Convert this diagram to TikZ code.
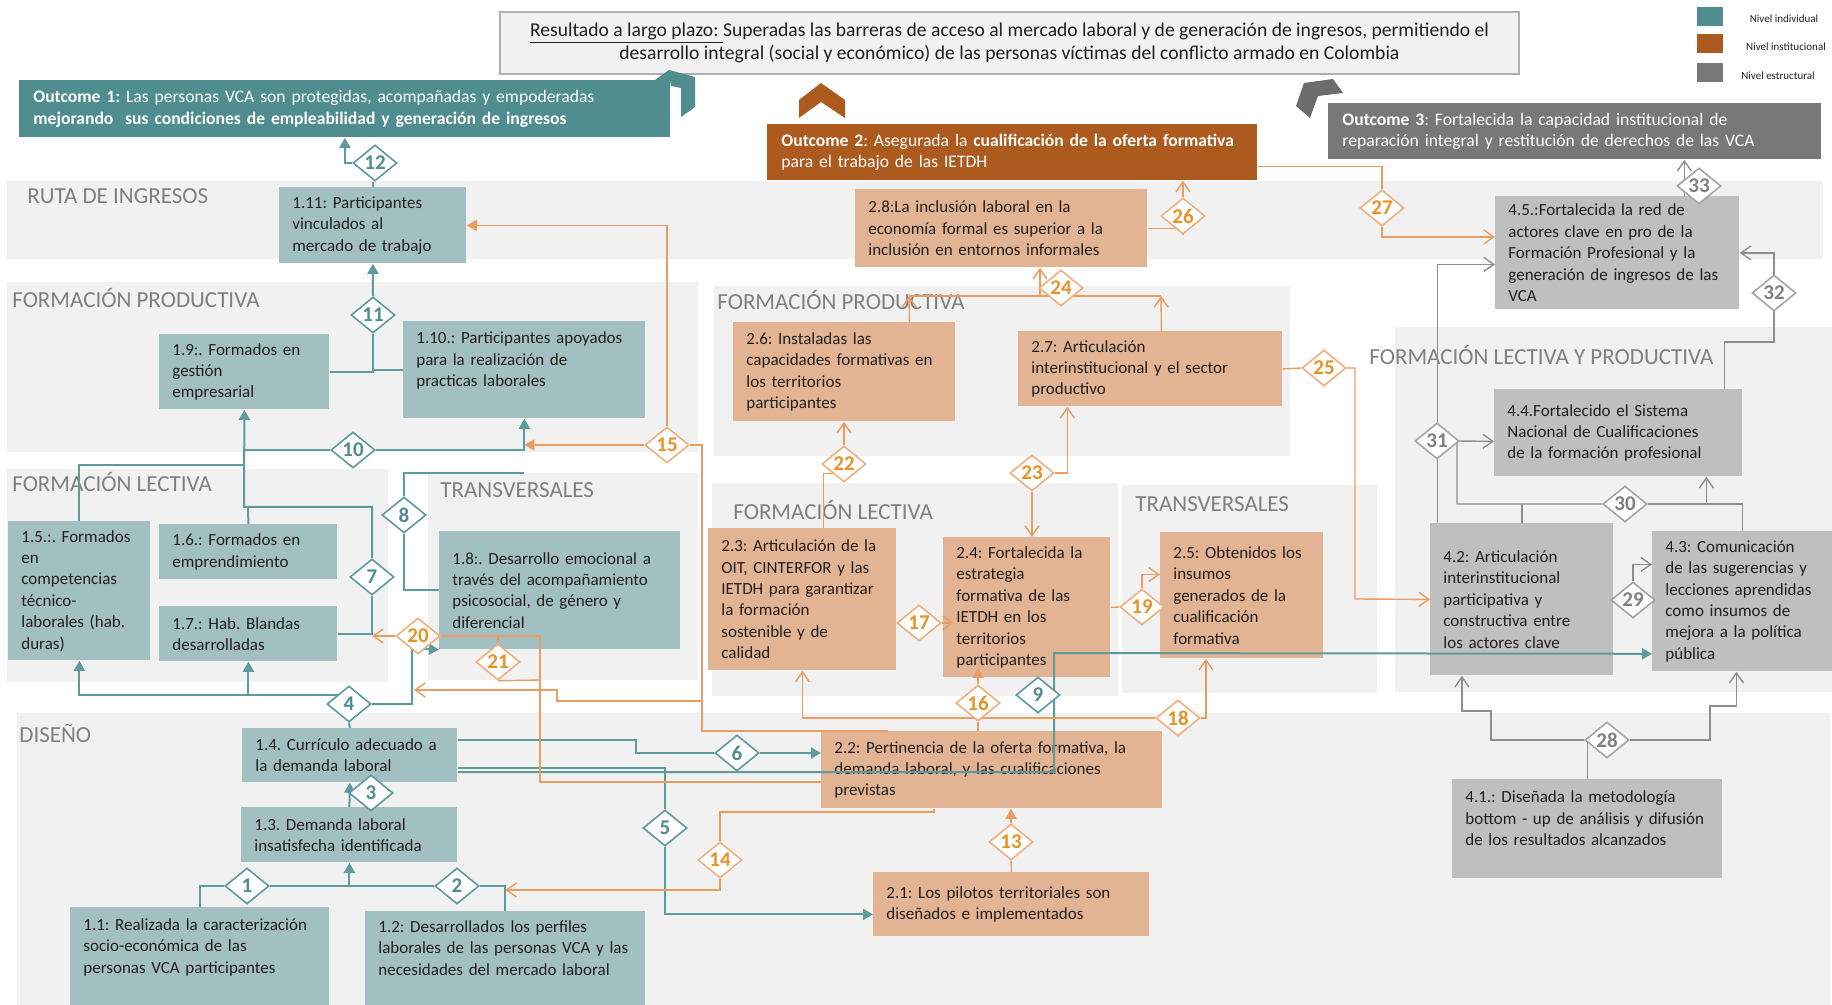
\documentclass[tikz,border=0pt]{standalone}
\usepackage{fontspec}
\setmainfont{Carlito}
\frenchspacing
\usepackage{tikz}
\usetikzlibrary{arrows.meta,shapes.geometric}
\pgfdeclarelayer{front}
\pgfsetlayers{main,front}
\definecolor{ctealD}{HTML}{508D8E}
\definecolor{ctealL}{HTML}{A2C0C1}
\definecolor{ctealLn}{HTML}{5F9B9C}
\definecolor{corD}{HTML}{AD5A1F}
\definecolor{corL}{HTML}{E2B493}
\definecolor{corLn}{HTML}{EB9C60}
\definecolor{corTx}{HTML}{E8922A}
\definecolor{cgrD}{HTML}{787878}
\definecolor{cgrL}{HTML}{BFBFBF}
\definecolor{cgrLn}{HTML}{8E8E8E}
\definecolor{cband}{HTML}{F1F1F1}
\definecolor{clabel}{HTML}{808080}
\definecolor{ctext}{HTML}{231F20}

\begin{document}
\begin{tikzpicture}[x=0.5pt,y=-0.5pt,
  font=\fontsize{8.5}{10.7}\selectfont, text=ctext,
  bandlbl/.style={anchor=base west,inner sep=0,text=clabel,font=\fontsize{11.5}{13}\selectfont},
  box/.style={anchor=north west,align=left,inner xsep=6.5pt,inner ysep=2pt},
  tbox/.style={box,fill=ctealL},
  obox/.style={box,fill=corL},
  gbox/.style={box,fill=cgrL},
  outc/.style={anchor=north west,align=left,inner xsep=7pt,text=white,font=\fontsize{8.8}{10.9}\selectfont},
  lgsq/.style={anchor=north west,inner sep=0,minimum width=13pt,minimum height=9.5pt},
  lgtx/.style={text=ctext,font=\fontsize{5.5}{6}\selectfont},
  dia/.style={diamond,aspect=1.2,minimum width=22pt,minimum height=18pt,inner sep=0,
              fill=white,line width=0.8pt,font=\bfseries\fontsize{10.5}{12}\selectfont},
  tdia/.style={dia,draw=ctealLn,text=ctealD},
  odia/.style={dia,draw=corLn!80,text=corTx},
  gdia/.style={dia,draw=cgrLn!80,text=clabel},
  tline/.style={draw=ctealLn,line width=1pt},
  tarr/.style={tline,-{Triangle[length=5pt,width=5.5pt]}},
  oline/.style={draw=corLn,line width=0.7pt},
  oarr/.style={oline,-{Straight Barb[length=5pt,width=7pt]}},
  oarrf/.style={oline,-{Triangle[length=5pt,width=5.5pt]}},
  gline/.style={draw=cgrLn,line width=0.7pt},
  garr/.style={gline,-{Straight Barb[length=5pt,width=7pt]}}]
  \useasboundingbox (0,0) rectangle (1832,1005);
  \fill[white] (0,0) rectangle (1832,1005);

  % bands
  \fill[cband] (7,181) rectangle (1823,259);
  \fill[cband] (7,282) rectangle (698,452);
  \fill[cband] (7,469) rectangle (388,682);
  \fill[cband] (428,473) rectangle (698,680);
  \fill[cband] (714,286) rectangle (1290,456);
  \fill[cband] (712,483) rectangle (1118,696);
  \fill[cband] (1122,485) rectangle (1377,693);
  \fill[cband] (1395,327) rectangle (1832,692);
  \fill[cband] (17,713) rectangle (1830,1005);
  \node[bandlbl] (lruta) at (27,204) {RUTA DE INGRESOS};
  \node[bandlbl] (lfp1) at (12,308) {FORMACIÓN PRODUCTIVA};
  \node[bandlbl] (lfl1) at (12,492) {FORMACIÓN LECTIVA};
  \node[bandlbl] (ltr1) at (440,498) {TRANSVERSALES};
  \node[bandlbl] (lfp2) at (717,310) {FORMACIÓN PRODUCTIVA};
  \node[bandlbl] (lfl2) at (733,520) {FORMACIÓN LECTIVA};
  \node[bandlbl] (ltr2) at (1135,512) {TRANSVERSALES};
  \node[bandlbl] (lflp) at (1369,365) {FORMACIÓN LECTIVA Y PRODUCTIVA};
  \node[bandlbl] (ldis) at (19,742) {DISEÑO};

  % long-term result, outcomes, legend
  \node[draw=cgrLn!70,line width=1pt,fill=cband,anchor=north west,minimum width=509.5pt,
        minimum height=31pt,align=center,font=\fontsize{9.8}{11.5}\selectfont] (res) at (499,11)
    {\underline{Resultado a largo plazo:\ }Superadas las barreras de acceso al mercado laboral y de generación de ingresos, permitiendo el\\
     desarrollo integral (social y económico) de las personas víctimas del conflicto armado en Colombia};
  \fill[ctealD] (655,80) -- (669,70) -- (695,77) -- (695,107) -- (681,117) -- (681,88) -- (671,86) -- (670,80) -- cycle;
  \fill[corD] (799,118) -- (799,100) -- (821,83) -- (845,100) -- (845,118) -- (821,102) -- cycle;
  \fill[cgrD!90!black] (1296,106) -- (1304,83) -- (1333,79) -- (1343,93) -- (1318,96) -- (1310,118) -- cycle;
  \node[outc,fill=ctealD,text width=311.5pt,minimum height=28.5pt] (o1) at (19,80)
    {\textbf{Outcome 1:} Las personas VCA son protegidas, acompañadas y empoderadas\\
     \textbf{mejorando\ \ sus condiciones de empleabilidad y generación de ingresos}};
  \node[outc,fill=corD,text width=231pt,minimum height=28pt] (o2) at (767,124)
    {\textbf{Outcome 2}: Asegurada la \textbf{cualificación de la oferta formativa}\\para el trabajo de las IETDH};
  \node[outc,fill=cgrD,text width=232.5pt,minimum height=28pt] (o3) at (1328,103)
    {\textbf{Outcome 3}: Fortalecida la capacidad institucional de\\reparación integral y restitución de derechos de las VCA};
  \node[lgsq,fill=ctealD] (lg1) at (1697,7) {};
  \node[lgsq,fill=corD] (lg2) at (1697,34) {};
  \node[lgsq,fill=cgrD] (lg3) at (1697,63) {};
  \node[lgtx] (lgt1) at (1784,19) {Nivel individual};
  \node[lgtx] (lgt2) at (1786,47) {Nivel institucional};
  \node[lgtx] (lgt3) at (1778,76) {Nivel estructural};

  % outcome 1 boxes
  \node[tbox,text width=80.5pt,minimum height=38pt] (b111) at (279,187) {1.11: Participantes\\vinculados al\\mercado de trabajo};
  \node[tbox,text width=72pt,minimum height=37.5pt] (b19) at (159,334) {1.9:. Formados en\\gestión\\empresarial};
  \node[tbox,text width=108pt,minimum height=48.5pt] (b110) at (403,321) {1.10.: Participantes apoyados\\para la realización de\\practicas laborales\\\mbox{}};
  \node[tbox,text width=58pt,minimum height=69.5pt] (b15) at (8,521) {1.5.:. Formados\\en\\competencias\\técnico-\\laborales (hab.\\duras)};
  \node[tbox,text width=76pt,minimum height=27.5pt] (b16) at (159,524) {1.6.: Formados en\\emprendimiento};
  \node[tbox,text width=76pt,minimum height=27.5pt] (b17) at (159,606) {1.7.: Hab. Blandas\\desarrolladas};
  \node[tbox,text width=107.5pt,minimum height=59pt] (b18) at (439,531) {1.8:. Desarrollo emocional a\\través del acompañamiento\\psicosocial, de género y\\diferencial};
  \node[tbox,text width=94.5pt,minimum height=27pt] (b14) at (242,728) {1.4. Currículo adecuado a\\la demanda laboral};
  \node[tbox,text width=95pt,minimum height=27.5pt] (b13) at (241,807) {1.3. Demanda laboral\\insatisfecha identificada};
  \node[tbox,text width=116.5pt,minimum height=49pt] (b11) at (70,907) {1.1: Realizada la caracterización\\socio-económica de las\\personas VCA participantes\\\mbox{}};
  \node[tbox,text width=127pt,minimum height=47pt] (b12) at (365,911) {1.2: Desarrollados los perfiles\\laborales de las personas VCA y las\\necesidades del mercado laboral\\\mbox{}};

  % outcome 2 boxes
  \node[obox,text width=133pt,minimum height=39pt] (b28) at (855,189) {2.8:La inclusión laboral en la\\economía formal es superior a la\\inclusión en entornos informales};
  \node[obox,text width=98pt,minimum height=49.5pt] (b26) at (733,322) {2.6: Instaladas las\\capacidades formativas en\\los territorios\\participantes};
  \node[obox,text width=119pt,minimum height=37.5pt] (b27) at (1018,331) {2.7: Articulación\\interinstitucional y el sector\\productivo};
  \node[obox,text width=81pt,minimum height=71pt] (b23) at (708,528) {2.3: Articulación de la\\OIT, CINTERFOR y las\\IETDH para garantizar\\la formación\\sostenible y de\\calidad};
  \node[obox,text width=70.5pt,minimum height=70pt] (b24) at (943,537) {2.4: Fortalecida la\\estrategia\\formativa de las\\IETDH en los\\territorios\\participantes};
  \node[obox,text width=68.5pt,minimum height=63pt] (b25) at (1160,532) {2.5: Obtenidos los\\insumos\\generados de la\\cualificación\\formativa};
  \node[obox,text width=157.5pt,minimum height=38.5pt] (b22) at (821,731) {2.2: Pertinencia de la oferta formativa, la\\demanda laboral, y las cualificaciones\\previstas};
  \node[obox,text width=125pt,minimum height=32pt] (b21) at (873,872) {2.1: Los pilotos territoriales son\\diseñados e implementados};

  % outcome 3 boxes
  \node[gbox,text width=109pt,minimum height=56.5pt] (b45) at (1495,196) {4.5.:Fortalecida la red de\\actores clave en pro de la\\Formación Profesional y la\\generación de ingresos de las\\VCA};
  \node[gbox,text width=111pt,minimum height=43.5pt] (b44) at (1494,389) {4.4.Fortalecido el Sistema\\Nacional de Cualificaciones\\de la formación profesional};
  \node[gbox,text width=78.5pt,minimum height=76pt] (b42) at (1430,523) {4.2: Articulación\\interinstitucional\\participativa y\\constructiva entre\\los actores clave};
  \node[gbox,text width=77pt,minimum height=70pt] (b43) at (1652,531) {4.3: Comunicación\\de las sugerencias y\\lecciones aprendidas\\como insumos de\\mejora a la política\\pública};
  \node[gbox,text width=122pt,minimum height=49.5pt] (b41) at (1452,779) {4.1.: Diseñada la metodología\\bottom - up de análisis y difusión\\de los resultados alcanzados\\\mbox{}};

  % numbered diamonds
  \begin{pgfonlayer}{front}
    \node[tdia] (d1) at (247,886) {1};
    \node[tdia] (d2) at (457,886) {2};
    \node[tdia] (d3) at (371,793) {3};
    \node[tdia] (d4) at (349,704) {4};
    \node[tdia] (d5) at (665,828) {5};
    \node[tdia] (d6) at (737,753) {6};
    \node[tdia] (d7) at (372,577) {7};
    \node[tdia] (d8) at (404,515) {8};
    \node[tdia] (d9) at (1038,695) {9};
    \node[tdia] (d10) at (353,450) {10};
    \node[tdia] (d11) at (373,315) {11};
    \node[tdia] (d12) at (375,163) {12};
    \node[odia] (d13) at (1011,842) {13};
    \node[odia] (d14) at (720,860) {14};
    \node[odia] (d15) at (667,445) {15};
    \node[odia] (d16) at (978,703) {16};
    \node[odia] (d17) at (919,623) {17};
    \node[odia] (d18) at (1178,718) {18};
    \node[odia] (d19) at (1142,607) {19};
    \node[odia] (d20) at (418,636) {20};
    \node[odia] (d21) at (498,662) {21};
    \node[odia] (d22) at (844,464) {22};
    \node[odia] (d23) at (1032,473) {23};
    \node[odia] (d24) at (1061,288) {24};
    \node[odia] (d25) at (1324,368) {25};
    \node[odia] (d26) at (1183,216) {26};
    \node[odia] (d27) at (1382,208) {27};
    \node[gdia] (d28) at (1607,740) {28};
    \node[gdia] (d29) at (1633,600) {29};
    \node[gdia] (d30) at (1625,504) {30};
    \node[gdia] (d31) at (1437,441) {31};
    \node[gdia] (d32) at (1774,293) {32};
    \node[gdia] (d33) at (1699,186) {33};
  \end{pgfonlayer}

  % teal links
  \draw[tline] (b111.north) -- (b111.north |- d12.south);
  \draw[tarr] (d12.west) -| (o1.south);
  \draw[tline] (b19.east) -| (d11.south);
  \draw[tline] (b110.west) -| (d11.south);
  \draw[tarr] (d11.north) -- (b111.south);
  \draw[tline] (b15.north) |- (244,465);
  \draw[tline] (b16.north) -- (248,507);
  \draw[tline] (b17.east) -| (d7.south);
  \draw[tarr] (d7.north) |- (244,507) -- (b19.south);
  \draw[tline] (b19.south |- d10.west) -- (d10.west);
  \draw[tarr] (d10.east) -| (b110.south);
  \draw[tline] (b18.west) -| (d8.south);
  \draw[tline] (d8.north) |- (524,473);
  \draw[tline] (d4.north west) -- (b17.south |- d4.north west);
  \draw[tarr] (b17.south |- d4.north west) -- (b17.south);
  \draw[tarr] (b17.south |- d4.north west) -| (b15.south);
  \draw[tline] (b14.north) -- (d4.south);
  \draw[tarr] (d4.east) -| (412,648) -- (b18.south west);
  \draw[tarr] (b13.north) -- (b14.south);
  \draw[tline] (b11.north) |- (d1.west);
  \draw[tarr] (d1.east) -| (b13.south);
  \draw[tline] (b12.north) |- (d2.east);
  \draw[tline] (d2.west) -- (d1.east);
  \draw[tline] ([yshift=-6pt]b14.north east) -| (636,753) -- (d6.west);
  \draw[tarr] (d6.east) -- (d6.east -| b22.west);
  \draw[tline] ([yshift=-20pt]b14.north east) -| (d5.north);
  \draw[tarr] (d5.south) |- ([yshift=-5pt]b21.west);
  \draw[tarr] ([yshift=-22pt]b14.north east) -| (1054,653) -- ([yshift=9pt]b43.south west);

  % orange links
  \draw[oline] (b21.north) -- (d13.south);
  \draw[oarrf] (d13.north) -- (d13.north |- b22.south);
  \draw[oline] ([xshift=-29pt]b22.south) -- ++(0,3) -| (d14.north);
  \draw[oarr] (d14.south) |- ([yshift=10.5pt]b12.north);
  \draw[oline] ([xshift=-52pt]b22.north) -| (702,445) -- (d15.east);
  \draw[oarrf] (d15.west) -- (d15.west -| b110.south);
  \draw[oarrf] (d15.north) |- (b111.east);
  \draw[oline] (d16.south) -- (d16.south |- b22.north);
  \draw[oarrf,shorten >=-5pt] (d16.north) -- (d16.north |- b24.south);
  \draw[oarr] (d18.west) -| (b23.south);
  \draw[oarr] (d18.east) -| ([xshift=-18pt]b25.south);
  \draw[oarr] (d17.east) -- ++(12,0);
  \draw[oline] (b24.east) -- (d19.west);
  \draw[oarr] (d19.north) |- ([yshift=10.5pt]b25.west);
  \draw[oline] ([yshift=-6pt]b22.west) -| (540,636) -- (d20.east);
  \draw[oarr] (d20.west) -- (d7.south |- d20.west);
  \draw[oline] (d21.north) -- (d21.north |- d20.east);
  \draw[oline] (d21.south) -- (540,680);
  \draw[oarr] (702,701) -| (557,690) -- (414,690);
  \draw[oline] ([xshift=10.5pt]b23.north) |- (d22.south west);
  \draw[oarr] (d22.north) -- (d22.north |- b26.south);
  \draw[oarr] (d23.south) -- (d23.south |- b24.north);
  \draw[oarr] (d23.east) -| ([xshift=-41.5pt]b27.south);
  \coordinate (j24) at (1040,296);
  \draw[oarr] ([xshift=32.5pt]b26.north) -- (909,296);
  \draw[oarr] ([xshift=5.5pt]b27.north) -- (1161,296);
  \draw[oline] (909,296) -- (1161,296);
  \draw[oarr] (j24) -- (j24 |- b28.south);
  \draw[oline] (b28.east) -| (d26.south);
  \draw[oarr] (d26.north) -- (d26.north |- o2.south);
  \draw[oline] (b27.east) -- (d25.west);
  \draw[oarr] (d25.east) -| (1355,599) -- (b42.west);
  \draw[oline] ([yshift=-7pt]o2.east) -| (d27.north);
  \draw[oarr] (d27.south) |- ([yshift=8pt]b45.west);

  % gray links
  \draw[gline] (b41.north) -- (b41.north |- d28.west);
  \draw[garr] (d28.west) -| (1491,711) -| ([xshift=-30pt]b42.south);
  \draw[garr] (d28.east) -| (1710,706) -| ([xshift=-3pt]b43.south);
  \draw[garr] (d29.north) |- ([yshift=18.5pt]b43.west);
  \draw[gline] (b42.north) -- (b42.north |- d30.west);
  \draw[garr] (d30.west) -| (1457,441) -- ([yshift=-4.25pt]b44.west);
  \draw[garr] (d30.east) -| ([xshift=44pt]b44.south);
  \draw[gline] (b43.north) |- (d30.east);
  \draw[garr] ([xshift=3.75pt]b42.north west) |- ([yshift=-5.75pt]b45.west);
  \draw[garr] ([xshift=53pt]b44.north) |- (1774,342) |- (b45.east);
  \coordinate (j33) at ([xshift=33.5pt]b45.north);
  \draw[garr] (j33) -- (j33 |- o3.south);
\end{tikzpicture}
\end{document}
